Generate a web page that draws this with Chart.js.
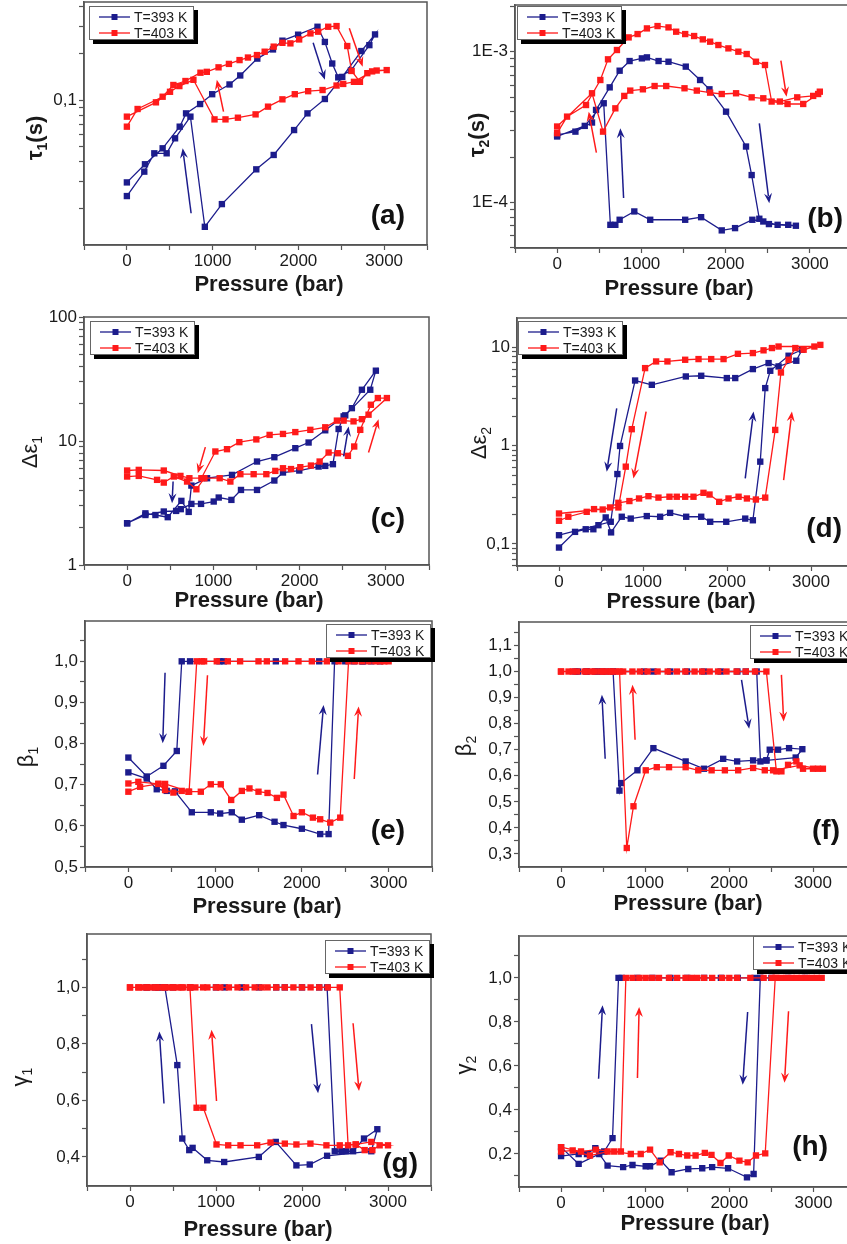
<!DOCTYPE html>
<html>
<head>
<meta charset="utf-8">
<script src="https://cdn.jsdelivr.net/npm/chart.js@4.4.1/dist/chart.umd.min.js"></script>
<style>
  html, body { margin: 0; padding: 0; background: #fff; }
  body { width: 847px; height: 1244px; overflow: hidden; position: relative; }
  canvas { position: absolute; }
</style>
</head>
<body>
<script>
// ---------- series labels ----------
const LABEL_393 = "T=393 K";
const LABEL_403 = "T=403 K";

// ---------- (a) tau1 ----------
const pA393 = [0, 211, 417, 616, 690, 854, 995, 1197, 1322, 1521, 1704, 1814, 1997, 2223, 2309, 2395, 2465, 2613, 2828, 2894, 2734, 2512, 2309, 2106, 1950, 1712, 1509, 1108, 909, 741, 562, 464, 320, 203, 0];
const vA393 = [0.0294, 0.0385, 0.0488, 0.0673, 0.082, 0.0942, 0.109, 0.126, 0.144, 0.185, 0.212, 0.2415, 0.264, 0.297, 0.237, 0.172, 0.140, 0.155, 0.226, 0.265, 0.207, 0.141, 0.1015, 0.082, 0.064, 0.0442, 0.0357, 0.0213, 0.0152, 0.0781, 0.0566, 0.0453, 0.0453, 0.0345, 0.024];
const pA403 = [0, 125, 417, 542, 683, 858, 932, 1069, 1190, 1314, 1412, 1517, 1607, 1712, 1814, 1907, 2009, 2141, 2231, 2348, 2445, 2570, 2621, 2718, 2804, 2913, 3030, 2860, 2648, 2523, 2445, 2282, 2114, 1958, 1814, 1646, 1501, 1295, 1150, 1022, 776, 612, 503, 339, 0];
const vA403 = [0.0673, 0.0875, 0.105, 0.125, 0.1326, 0.150, 0.152, 0.1625, 0.171, 0.181, 0.188, 0.195, 0.205, 0.221, 0.234, 0.232, 0.246, 0.269, 0.276, 0.297, 0.300, 0.223, 0.154, 0.131, 0.149, 0.155, 0.156, 0.153, 0.131, 0.127, 0.124, 0.116, 0.114, 0.109, 0.101, 0.0906, 0.0808, 0.0769, 0.075, 0.075, 0.135, 0.123, 0.113, 0.0966, 0.0781];

// ---------- (b) tau2 ----------
const pB393 = [0, 217, 414, 462, 624, 742, 860, 1006, 1066, 1204, 1322, 1527, 1697, 1808, 2005, 2242, 2309, 2400, 2514, 2743, 2834, 2617, 2447, 2317, 2112, 1954, 1709, 1520, 1105, 916, 742, 691, 632, 553, 328, 0];
const vB393 = [2.81e-4, 2.95e-4, 3.39e-4, 4.11e-4, 5.80e-4, 7.48e-4, 8.67e-4, 9.03e-4, 9.17e-4, 8.67e-4, 8.58e-4, 7.96e-4, 6.49e-4, 5.63e-4, 4.00e-4, 2.35e-4, 1.52e-4, 7.80e-5, 7.19e-5, 7.11e-5, 7.01e-5, 7.11e-5, 7.48e-5, 7.68e-5, 6.76e-5, 6.53e-5, 7.99e-5, 7.68e-5, 7.68e-5, 8.72e-5, 7.68e-5, 7.11e-5, 7.11e-5, 4.55e-4, 3.22e-4, 2.74e-4];
const pB403 = [0, 118, 343, 513, 604, 710, 849, 955, 1066, 1192, 1322, 1413, 1520, 1626, 1729, 1816, 1914, 2033, 2151, 2250, 2360, 2467, 2546, 2735, 2921, 3098, 3118, 3039, 2850, 2644, 2447, 2309, 2124, 1954, 1816, 1658, 1512, 1295, 1157, 1018, 868, 797, 691, 545, 414, 0];
const vB403 = [2.88e-4, 3.71e-4, 4.43e-4, 6.49e-4, 8.90e-4, 1.026e-3, 1.244e-3, 1.309e-3, 1.427e-3, 1.479e-3, 1.449e-3, 1.357e-3, 1.309e-3, 1.270e-3, 1.207e-3, 1.165e-3, 1.107e-3, 1.052e-3, 1.0e-3, 9.65e-4, 8.58e-4, 8.16e-4, 4.67e-4, 4.50e-4, 4.50e-4, 5.24e-4, 5.43e-4, 5.09e-4, 4.98e-4, 4.67e-4, 4.91e-4, 4.98e-4, 5.30e-4, 5.24e-4, 5.35e-4, 5.52e-4, 5.72e-4, 5.92e-4, 5.92e-4, 5.63e-4, 5.52e-4, 5.09e-4, 4.21e-4, 2.95e-4, 5.30e-4, 3.19e-4];

// ---------- (c) delta eps1 ----------
const pC393 = [0, 212, 425, 568, 622, 745, 857, 1004, 1062, 1209, 1320, 1506, 1707, 1807, 1996, 2220, 2297, 2386, 2452, 2510, 2606, 2722, 2884, 2819, 2529, 2297, 2104, 1950, 1707, 1506, 1216, 927, 745, 714, 629, 471, 328, 212, 0];
const vC393 = [2.17, 2.53, 2.70, 2.73, 2.82, 3.11, 3.11, 3.25, 3.50, 3.35, 4.03, 4.03, 4.80, 5.57, 5.78, 6.22, 6.30, 6.50, 12.5, 15.8, 18.4, 25.9, 36.9, 25.9, 16.1, 12.2, 9.72, 8.75, 7.40, 6.83, 5.33, 5.01, 4.37, 2.68, 3.29, 2.43, 2.53, 2.61, 2.17];
const pC403 = [0, 135, 347, 425, 541, 695, 803, 896, 1073, 1197, 1313, 1467, 1614, 1718, 1807, 1900, 2008, 2131, 2232, 2336, 2444, 2560, 2633, 2703, 2826, 2907, 3012, 2799, 2722, 2625, 2510, 2432, 2297, 2124, 1950, 1807, 1652, 1498, 1301, 1158, 1023, 861, 722, 618, 425, 135, 0];
const vC403 = [5.17, 5.23, 4.86, 4.62, 5.17, 4.71, 4.08, 5.01, 5.01, 4.71, 5.40, 5.40, 5.40, 5.74, 6.03, 5.94, 6.15, 6.34, 6.83, 8.07, 7.97, 7.59, 9.03, 12.3, 19.6, 22.2, 22.2, 16.3, 15.0, 14.4, 14.6, 14.6, 12.9, 12.3, 11.8, 11.4, 11.2, 10.3, 9.79, 8.59, 8.23, 5.01, 5.01, 5.23, 5.78, 5.85, 5.78];

// ---------- (d) delta eps2 ----------
const pD393 = [0, 191, 318, 409, 469, 556, 620, 747, 854, 1045, 1204, 1323, 1514, 1693, 1800, 1991, 2217, 2308, 2396, 2455, 2515, 2733, 2892, 2825, 2614, 2495, 2308, 2098, 1998, 1693, 1510, 1105, 906, 727, 695, 616, 0];
const vD393 = [0.0918, 0.1326, 0.141, 0.141, 0.155, 0.186, 0.131, 0.189, 0.181, 0.192, 0.189, 0.207, 0.189, 0.189, 0.168, 0.168, 0.181, 0.174, 0.687, 3.85, 5.78, 8.22, 9.46, 7.31, 6.40, 6.92, 6.01, 4.87, 4.87, 5.14, 5.06, 4.16, 4.60, 0.992, 0.514, 0.168, 0.1226];
const pD403 = [0, 111, 330, 417, 520, 608, 707, 838, 953, 1065, 1184, 1315, 1402, 1502, 1601, 1720, 1792, 1907, 2018, 2138, 2237, 2344, 2455, 2574, 2642, 2733, 2813, 2912, 3111, 3040, 2614, 2535, 2435, 2308, 2130, 1959, 1812, 1661, 1502, 1291, 1156, 1025, 866, 795, 707, 0];
const vD403 = [0.172, 0.189, 0.212, 0.226, 0.224, 0.235, 0.262, 0.273, 0.29, 0.306, 0.296, 0.302, 0.302, 0.302, 0.302, 0.331, 0.318, 0.268, 0.29, 0.302, 0.29, 0.283, 0.296, 1.445, 5.55, 7.48, 9.84, 9.46, 10.6, 10.2, 10.2, 9.84, 9.33, 8.75, 8.6, 7.6, 7.6, 7.6, 7.48, 7.19, 7.19, 6.15, 1.47, 0.611, 0.235, 0.204];

// ---------- (e) beta1 ----------
const pE393 = [0, 212, 327, 442, 538, 731, 950, 1058, 1192, 1308, 1508, 1685, 1788, 2000, 2211, 2308, 2377, 2500, 2600, 2700, 2800, 2900, 2700, 2200, 1700, 1100, 1050, 711, 615, 558, 404, 212, 0];
const vE393 = [0.730, 0.715, 0.689, 0.685, 0.684, 0.633, 0.633, 0.630, 0.633, 0.615, 0.626, 0.610, 0.602, 0.593, 0.580, 0.580, 1, 1, 1, 1, 1, 1, 1, 1, 1, 1, 1, 1, 1, 0.782, 0.746, 0.720, 0.766];
const pE403 = [0, 135, 346, 423, 519, 615, 692, 835, 950, 1065, 1185, 1308, 1396, 1500, 1604, 1712, 1788, 1904, 2000, 2127, 2211, 2327, 2442, 2538, 2615, 2692, 2769, 2846, 2904, 3000, 2950, 2423, 2288, 2115, 1961, 1807, 1596, 1500, 1288, 1146, 1019, 873, 846, 788, 700, 423, 346, 115, 0];
const vE403 = [0.683, 0.695, 0.702, 0.687, 0.681, 0.685, 0.683, 0.683, 0.701, 0.701, 0.663, 0.685, 0.691, 0.683, 0.680, 0.668, 0.676, 0.624, 0.633, 0.620, 0.616, 0.608, 0.620, 1, 1, 1, 1, 1, 1, 1, 1, 1, 1, 1, 1, 1, 1, 1, 1, 1, 1, 1, 1, 1, 0.683, 0.702, 0.702, 0.707, 0.703];

// ---------- (f) beta2 ----------
const pF393 = [170, 309, 408, 487, 620, 990, 1100, 1300, 1500, 1700, 1900, 2100, 2200, 2330, 2374, 2445, 2485, 2584, 2715, 2873, 2794, 2445, 2287, 2097, 1931, 1702, 1484, 1100, 910, 716, 696, 620, 540, 430, 300, 200];
const vF393 = [1, 1, 1, 1, 1, 1, 1, 1, 1, 1, 1, 1, 1, 1, 0.655, 0.659, 0.70, 0.70, 0.706, 0.702, 0.67, 0.659, 0.659, 0.655, 0.665, 0.627, 0.655, 0.706, 0.621, 0.572, 0.543, 1, 1, 1, 1, 1];
const pF403 = [0, 90, 190, 310, 370, 470, 530, 590, 660, 740, 850, 940, 1030, 1150, 1270, 1380, 1480, 1590, 1680, 1770, 1870, 1970, 2090, 2200, 2310, 2445, 2564, 2624, 2703, 2802, 2881, 3000, 3118, 3059, 2841, 2525, 2426, 2287, 2109, 1951, 1793, 1634, 1484, 1286, 1140, 1009, 863, 783, 697, 600, 500, 400, 280, 140, 0];
const vF403 = [1, 1, 1, 1, 1, 1, 1, 1, 1, 1, 1, 1, 1, 1, 1, 1, 1, 1, 1, 1, 1, 1, 1, 1, 1, 1, 0.617, 0.617, 0.642, 0.655, 0.627, 0.627, 0.627, 0.627, 0.64, 0.621, 0.621, 0.630, 0.621, 0.621, 0.621, 0.621, 0.633, 0.633, 0.633, 0.621, 0.483, 0.323, 1, 1, 1, 1, 1, 1, 1];

// ---------- (g) gamma1 ----------
const pG393 = [194, 290, 330, 406, 500, 700, 1000, 1100, 1300, 1500, 1700, 1800, 2000, 2200, 2292, 2381, 2458, 2516, 2594, 2721, 2876, 2806, 2292, 2090, 1935, 1695, 1498, 1095, 898, 728, 689, 608, 550, 406, 330, 194];
const vG393 = [1, 1, 1, 1, 1, 1, 1, 1, 1, 1, 1, 1, 1, 1, 1, 0.42, 0.42, 0.42, 0.42, 0.465, 0.498, 0.42, 0.404, 0.373, 0.370, 0.453, 0.40, 0.382, 0.388, 0.432, 0.424, 0.465, 0.725, 1, 1, 1];
const pG403 = [0, 97, 160, 230, 300, 360, 430, 500, 560, 620, 700, 760, 850, 900, 1000, 1050, 1150, 1250, 1350, 1450, 1530, 1600, 1700, 1800, 1900, 2000, 2100, 2200, 2300, 2439, 2536, 2625, 2729, 2818, 2903, 3000, 2806, 2625, 2439, 2284, 2098, 1935, 1800, 1634, 1479, 1285, 1142, 1006, 852, 774, 697, 600, 500, 400, 300, 200, 100, 0];
const vG403 = [1, 1, 1, 1, 1, 1, 1, 1, 1, 1, 1, 1, 1, 1, 1, 1, 1, 1, 1, 1, 1, 1, 1, 1, 1, 1, 1, 1, 1, 1, 0.441, 0.444, 0.424, 0.424, 0.441, 0.441, 0.453, 0.444, 0.441, 0.441, 0.447, 0.444, 0.447, 0.451, 0.441, 0.441, 0.441, 0.444, 0.574, 0.574, 1, 1, 1, 1, 1, 1, 1, 1];

// ---------- (h) gamma2 ----------
const pH393 = [0, 209, 308, 407, 513, 612, 683, 722, 908, 1085, 1300, 1500, 1700, 1900, 2100, 2300, 2368, 2500, 2700, 2900, 2368, 2289, 2210, 1985, 1796, 1678, 1512, 1314, 1184, 1058, 1006, 849, 738, 553, 454, 209, 0];
const vH393 = [0.19, 0.20, 0.20, 0.226, 0.211, 0.272, 1, 1, 1, 1, 1, 1, 1, 1, 1, 1, 1, 1, 1, 1, 1, 0.109, 0.094, 0.135, 0.14, 0.135, 0.132, 0.117, 0.17, 0.144, 0.144, 0.15, 0.14, 0.147, 0.20, 0.155, 0.231];
const pH403 = [0, 138, 343, 553, 711, 770, 849, 930, 1006, 1085, 1164, 1283, 1380, 1480, 1550, 1618, 1700, 1796, 1914, 2000, 2092, 2250, 2408, 2506, 2560, 2620, 2680, 2740, 2800, 2860, 2920, 2980, 3040, 3098, 2546, 2427, 2317, 2218, 2120, 1993, 1895, 1788, 1709, 1599, 1500, 1401, 1302, 1172, 1058, 947, 829, 632, 414, 237, 0];
const vH403 = [0.211, 0.216, 0.193, 0.211, 0.211, 1, 1, 1, 1, 1, 1, 1, 1, 1, 1, 1, 1, 1, 1, 1, 1, 1, 1, 1, 1, 1, 1, 1, 1, 1, 1, 1, 1, 1, 1, 0.203, 0.193, 0.162, 0.17, 0.193, 0.159, 0.196, 0.205, 0.193, 0.193, 0.20, 0.208, 0.162, 0.22, 0.20, 0.20, 0.211, 0.22, 0.211, 0.231];

// ---------- hysteresis arrows: [P from, value from, P to, value to, series] ----------
const arrowsA = [[749, 0.0186, 651, 0.0488, "b"], [2172, 0.234, 2309, 0.135, "b"], [1127, 0.0841, 1049, 0.135, "r"], [2594, 0.290, 2750, 0.164, "r"]];
const arrowsB = [[789, 1.07e-4, 750, 3.11e-4, "b"], [2400, 3.35e-4, 2518, 9.9e-5, "b"], [466, 2.14e-4, 375, 4.0e-4, "r"], [2656, 8.72e-4, 2723, 5.03e-4, "r"]];
const arrowsC = [[533, 4.71, 521, 3.15, "b"], [2510, 7.50, 2568, 13.1, "b"], [907, 8.92, 819, 5.50, "r"], [2799, 8.07, 2915, 15.0, "r"]];
const arrowsD = [[687, 2.40, 568, 0.543, "b"], [2217, 0.464, 2316, 2.22, "b"], [1037, 2.22, 886, 0.464, "r"], [2674, 0.446, 2773, 2.22, "r"]];
const arrowsE = [[423, 0.972, 396, 0.801, "b"], [2181, 0.725, 2250, 0.894, "b"], [912, 0.966, 865, 0.794, "r"], [2604, 0.714, 2654, 0.890, "r"]];
const arrowsF = [[526, 0.665, 487, 0.911, "b"], [2149, 0.968, 2240, 0.780, "b"], [882, 0.738, 851, 0.949, "r"], [2624, 0.987, 2651, 0.808, "r"]];
const arrowsG = [[395, 0.589, 341, 0.844, "b"], [2110, 0.870, 2187, 0.625, "b"], [1006, 0.598, 948, 0.850, "r"], [2594, 0.873, 2663, 0.633, "r"]];
const arrowsH = [[446, 0.542, 493, 0.876, "b"], [2218, 0.845, 2159, 0.514, "b"], [908, 0.545, 928, 0.868, "r"], [2704, 0.848, 2656, 0.524, "r"]];

// ---------- ticks ----------
const xTicks = [-500, 0, 500, 1000, 1500, 2000, 2500, 3000, 3500];
const xLabels = [0, 1000, 2000, 3000];
const yTicksA = [0.02, 0.03, 0.04, 0.05, 0.06, 0.07, 0.08, 0.09, 0.1, 0.2, 0.3, 0.4];
const yLabelsA = [0.1];
const yTicksB = [5e-5, 6e-5, 7e-5, 8e-5, 9e-5, 1e-4, 2e-4, 3e-4, 4e-4, 5e-4, 6e-4, 7e-4, 8e-4, 9e-4, 1e-3, 2e-3];
const yLabelsB = [1e-4, 1e-3];
const yTicksC = [1, 2, 3, 4, 5, 6, 7, 8, 9, 10, 20, 30, 40, 50, 60, 70, 80, 90, 100];
const yLabelsC = [1, 10, 100];
const yTicksD = [0.06, 0.07, 0.08, 0.09, 0.1, 0.2, 0.3, 0.4, 0.5, 0.6, 0.7, 0.8, 0.9, 1, 2, 3, 4, 5, 6, 7, 8, 9, 10];
const yLabelsD = [0.1, 1, 10];
const yTicksE = [0.5, 0.55, 0.6, 0.65, 0.7, 0.75, 0.8, 0.85, 0.9, 0.95, 1.0, 1.05];
const yLabelsE = [0.5, 0.6, 0.7, 0.8, 0.9, 1.0];
const yTicksF = [0.3, 0.35, 0.4, 0.45, 0.5, 0.55, 0.6, 0.65, 0.7, 0.75, 0.8, 0.85, 0.9, 0.95, 1.0, 1.05, 1.1, 1.15];
const yLabelsF = [0.3, 0.4, 0.5, 0.6, 0.7, 0.8, 0.9, 1.0, 1.1];
const yTicksG = [0.4, 0.5, 0.6, 0.7, 0.8, 0.9, 1.0, 1.1];
const yLabelsG = [0.4, 0.6, 0.8, 1.0];
const yTicksH = [0.1, 0.2, 0.3, 0.4, 0.5, 0.6, 0.7, 0.8, 0.9, 1.0, 1.1];
const yLabelsH = [0.2, 0.4, 0.6, 0.8, 1.0];

// ---------- look ----------
const FAMILY = '"Liberation Sans", Arial, sans-serif';
const BLUE = "#1c1c8c";
const RED = "#ff1a1a";
const AXIS = "#555";
const TEXT = "#1a1a1a";
const COLORS = { b: BLUE, r: RED };
Chart.defaults.font.family = FAMILY;

const comma = (v) => v.toFixed(1).replace(".", ",");
const expo = (v) => "1E" + Math.round(Math.log10(v));
const plain = (v) => (v < 1 ? String(v).replace(".", ",") : String(v));

function arrow(ctx, x0, y0, x1, y1, color) {
  const a = Math.atan2(y1 - y0, x1 - x0), hl = 10, hw = 4;
  const c = Math.cos(a), s = Math.sin(a);
  ctx.strokeStyle = color; ctx.fillStyle = color; ctx.lineWidth = 1.5;
  ctx.beginPath(); ctx.moveTo(x0, y0); ctx.lineTo(x1 - c * hl * 0.7, y1 - s * hl * 0.7); ctx.stroke();
  ctx.beginPath();
  ctx.moveTo(x1, y1);
  ctx.lineTo(x1 - c * hl + s * hw, y1 - s * hl - c * hw);
  ctx.lineTo(x1 - c * hl * 0.65, y1 - s * hl * 0.65);
  ctx.lineTo(x1 - c * hl - s * hw, y1 - s * hl + c * hw);
  ctx.closePath(); ctx.fill();
}

function legendBox(ctx, x, y, sets) {
  const w = 105, h = 34;
  ctx.fillStyle = "#000"; ctx.fillRect(x + 4, y + 4, w, h);
  ctx.fillStyle = "#fff"; ctx.fillRect(x, y, w, h);
  ctx.strokeStyle = "#666"; ctx.lineWidth = 1; ctx.strokeRect(x + 0.5, y + 0.5, w - 1, h - 1);
  ctx.font = "14px " + FAMILY; ctx.textBaseline = "middle"; ctx.textAlign = "left";
  sets.forEach((d, i) => {
    const ry = y + 11 + i * 16;
    ctx.strokeStyle = d.borderColor; ctx.lineWidth = 1.3;
    ctx.beginPath(); ctx.moveTo(x + 10, ry); ctx.lineTo(x + 41, ry); ctx.stroke();
    ctx.fillStyle = d.borderColor; ctx.fillRect(x + 22.5, ry - 3, 6, 6);
    ctx.fillStyle = TEXT; ctx.fillText(d.label, x + 45, ry + 1);
  });
}

function yTitle(ctx, x, y, [main, sub, tail, bold]) {
  const w = bold ? "bold " : "";
  const big = w + "22px " + FAMILY, small = w + "14px " + FAMILY;
  ctx.save();
  ctx.translate(x, y); ctx.rotate(-Math.PI / 2);
  ctx.textBaseline = "middle"; ctx.textAlign = "left"; ctx.fillStyle = TEXT;
  ctx.font = big; const w1 = ctx.measureText(main).width, w3 = ctx.measureText(tail).width;
  ctx.font = small; const w2 = ctx.measureText(sub).width;
  let cx = -(w1 + w2 + w3) / 2;
  ctx.font = big; ctx.fillText(main, cx, 0); cx += w1;
  ctx.font = small; ctx.fillText(sub, cx, 7); cx += w2;
  ctx.font = big; ctx.fillText(tail, cx, 0);
  ctx.restore();
}

// frame, arrows, legend, panel letter and axis titles
const decor = {
  id: "decor",
  afterDraw(chart, _args, o) {
    const { ctx, chartArea: a } = chart;
    const sx = chart.scales.x, sy = chart.scales.y;
    const [ox, oy] = o.origin;
    ctx.save();
    ctx.strokeStyle = AXIS; ctx.lineWidth = 1.5;
    ctx.strokeRect(a.left, a.top, a.right - a.left, a.bottom - a.top);
    o.arrows.forEach(([p0, v0, p1, v1, c]) =>
      arrow(ctx, sx.getPixelForValue(p0), sy.getPixelForValue(v0), sx.getPixelForValue(p1), sy.getPixelForValue(v1), COLORS[c]));
    legendBox(ctx, o.legendAt[0] - ox, o.legendAt[1] - oy, chart.data.datasets);
    ctx.fillStyle = "#111"; ctx.textBaseline = "alphabetic";
    ctx.font = "bold 28px " + FAMILY; ctx.textAlign = "right";
    ctx.fillText(o.letter, o.letterAt[0] - ox, o.letterAt[1] - oy);
    ctx.fillStyle = TEXT; ctx.font = "bold 22px " + FAMILY; ctx.textAlign = "center";
    ctx.fillText("Pressure (bar)", o.xTitleAt[0] - ox, o.xTitleAt[1] - oy);
    yTitle(ctx, o.yTitleAt[0] - ox, o.yTitleAt[1] - oy, o.yTitle);
    ctx.restore();
  }
};

function series(label, p, v, color, order) {
  return {
    label, order, data: p.map((x, i) => ({ x, y: v[i] })),
    borderColor: color, backgroundColor: color, borderWidth: 1.3,
    pointStyle: "rect", pointRadius: 4.5, pointHoverRadius: 4.5, pointBorderWidth: 0, tension: 0
  };
}

function panel(cfg) {
  const [cx, cy, cw, ch] = cfg.box;
  const [L, T, R, B] = cfg.plot;
  const c = document.createElement("canvas");
  c.width = cw; c.height = ch;
  Object.assign(c.style, { left: cx + "px", top: cy + "px", width: cw + "px", height: ch + "px" });
  document.body.appendChild(c);
  const tickFont = { size: 17, family: FAMILY };
  new Chart(c, {
    type: "line",
    data: { datasets: [series(LABEL_393, cfg.b[0], cfg.b[1], BLUE, 1), series(LABEL_403, cfg.r[0], cfg.r[1], RED, 0)] },
    options: {
      responsive: false, animation: false, devicePixelRatio: 1, events: [],
      layout: { padding: { left: 0, top: T - cy, right: cx + cw - R, bottom: 0 } },
      plugins: {
        legend: { display: false }, tooltip: { enabled: false },
        decor: {
          origin: [cx, cy], arrows: cfg.arrows, legendAt: cfg.legendAt, letter: cfg.letter,
          letterAt: cfg.letterAt, xTitleAt: cfg.xTitleAt, yTitleAt: cfg.yTitleAt, yTitle: cfg.yTitle
        }
      },
      scales: {
        x: {
          type: "linear", min: -500, max: 3500,
          afterBuildTicks: (s) => { s.ticks = xTicks.map((value) => ({ value })); },
          afterFit: (s) => { s.height = cy + ch - B; s.paddingLeft = 0; s.paddingRight = 0; },
          ticks: { autoSkip: false, maxRotation: 0, padding: 1, color: TEXT, font: tickFont,
                   callback: (v) => (xLabels.includes(v) ? String(v) : "") },
          grid: { drawOnChartArea: false, drawTicks: true, tickLength: 5, tickColor: AXIS, tickWidth: 1.2 },
          border: { display: true, color: AXIS, width: 1.5 }
        },
        y: {
          type: cfg.log ? "logarithmic" : "linear", min: cfg.yMin, max: cfg.yMax,
          afterBuildTicks: (s) => { s.ticks = cfg.yTicks.map((value) => ({ value })); },
          afterFit: (s) => { s.width = L - cx; s.paddingTop = 0; s.paddingBottom = 0; },
          ticks: { autoSkip: false, padding: 2, color: TEXT, font: tickFont,
                   callback: (v) => (cfg.yLabels.includes(v) ? cfg.fmt(v) : "") },
          grid: { drawOnChartArea: false, drawTicks: true, tickLength: 5, tickColor: AXIS, tickWidth: 1.2 },
          border: { display: true, color: AXIS, width: 1.5 }
        }
      }
    },
    plugins: [decor]
  });
}

panel({ box: [0, -10, 440, 310], plot: [84, 2, 427, 245], log: true, yMin: 0.0116, yMax: 0.429,
  yTicks: yTicksA, yLabels: yLabelsA, fmt: comma, b: [pA393, vA393], r: [pA403, vA403], arrows: arrowsA,
  legendAt: [89, 6], letter: "(a)", letterAt: [405, 224], xTitleAt: [269, 291], yTitleAt: [36, 138], yTitle: ["τ", "1", "(s)", true] });
panel({ box: [440, -10, 420, 310], plot: [515, 5, 852, 248], log: true, yMin: 4.99e-5, yMax: 2.04e-3,
  yTicks: yTicksB, yLabels: yLabelsB, fmt: expo, b: [pB393, vB393], r: [pB403, vB403], arrows: arrowsB,
  legendAt: [517, 6], letter: "(b)", letterAt: [843, 227], xTitleAt: [679, 295], yTitleAt: [478, 135], yTitle: ["τ", "2", "(s)", true] });
panel({ box: [0, 300, 440, 315], plot: [84, 317, 429, 565], log: true, yMin: 1, yMax: 100,
  yTicks: yTicksC, yLabels: yLabelsC, fmt: plain, b: [pC393, vC393], r: [pC403, vC403], arrows: arrowsC,
  legendAt: [90, 321], letter: "(c)", letterAt: [405, 527], xTitleAt: [249, 607], yTitleAt: [31, 452], yTitle: ["Δε", "1", "", false] });
panel({ box: [440, 300, 420, 315], plot: [517, 318, 853, 566], log: true, yMin: 0.0596, yMax: 19.9,
  yTicks: yTicksD, yLabels: yLabelsD, fmt: plain, b: [pD393, vD393], r: [pD403, vD403], arrows: arrowsD,
  legendAt: [518, 321], letter: "(d)", letterAt: [842, 537], xTitleAt: [681, 608], yTitleAt: [480, 443], yTitle: ["Δε", "2", "", false] });
panel({ box: [0, 612, 440, 310], plot: [85, 621, 432, 867], log: false, yMin: 0.5, yMax: 1.098,
  yTicks: yTicksE, yLabels: yLabelsE, fmt: comma, b: [pE393, vE393], r: [pE403, vE403], arrows: arrowsE,
  legendAt: [326, 624], letter: "(e)", letterAt: [405, 839], xTitleAt: [267, 913], yTitleAt: [27, 757], yTitle: ["β", "1", "", false] });
panel({ box: [440, 612, 420, 310], plot: [519, 622, 855, 867], log: false, yMin: 0.25, yMax: 1.19,
  yTicks: yTicksF, yLabels: yLabelsF, fmt: comma, b: [pF393, vF393], r: [pF403, vF403], arrows: arrowsF,
  legendAt: [750, 625], letter: "(f)", letterAt: [840, 839], xTitleAt: [688, 910], yTitleAt: [465, 746], yTitle: ["β", "2", "", false] });
panel({ box: [0, 922, 440, 322], plot: [87, 934, 431, 1186], log: false, yMin: 0.297, yMax: 1.189,
  yTicks: yTicksG, yLabels: yLabelsG, fmt: comma, b: [pG393, vG393], r: [pG403, vG403], arrows: arrowsG,
  legendAt: [325, 940], letter: "(g)", letterAt: [418, 1172], xTitleAt: [258, 1236], yTitleAt: [21, 1077], yTitle: ["γ", "1", "", false] });
panel({ box: [440, 922, 420, 322], plot: [519, 936, 857, 1187], log: false, yMin: 0.05, yMax: 1.19,
  yTicks: yTicksH, yLabels: yLabelsH, fmt: comma, b: [pH393, vH393], r: [pH403, vH403], arrows: arrowsH,
  legendAt: [753, 936], letter: "(h)", letterAt: [828, 1155], xTitleAt: [695, 1230], yTitleAt: [465, 1065], yTitle: ["γ", "2", "", false] });
</script>
</body>
</html>
